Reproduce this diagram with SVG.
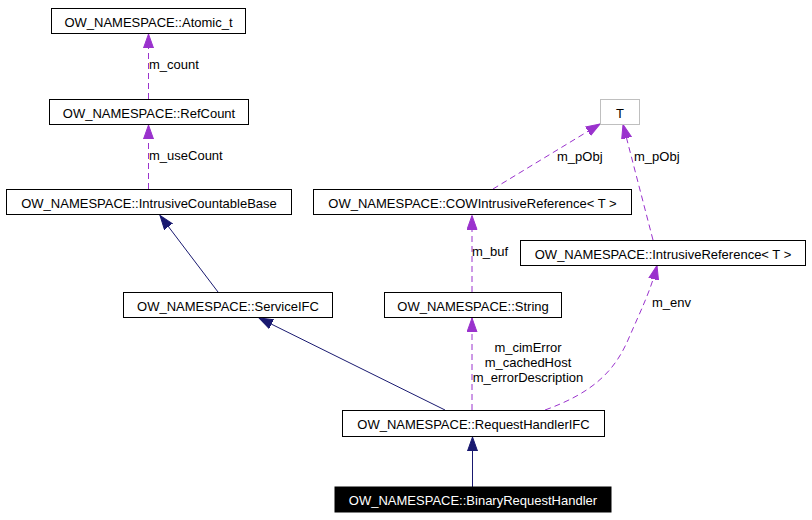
<svg xmlns="http://www.w3.org/2000/svg" width="812" height="520" viewBox="0 0 812 520">
<defs>
<style>
.n rect{fill:#fff;stroke:#000;stroke-width:1}
.n text{font-family:"Liberation Sans",Arial,sans-serif;font-size:13px;text-anchor:middle;fill:#000}
.lbl{font-family:"Liberation Sans",Arial,sans-serif;font-size:13px;fill:#000}
.inh{fill:none;stroke:#191970;stroke-width:1}
.use{fill:none;stroke:#9a32cd;stroke-width:1;stroke-dasharray:6,4}
</style>
<marker id="ah" markerUnits="userSpaceOnUse" markerWidth="15" markerHeight="11" refX="14" refY="5" orient="auto" viewBox="0 0 15 10">
<path d="M0,0 L14,5 L0,10 z" fill="#191970" stroke="#191970"/>
</marker>
<marker id="ap" markerUnits="userSpaceOnUse" markerWidth="15" markerHeight="11" refX="14" refY="5" orient="auto" viewBox="0 0 15 10">
<path d="M0,0 L14,5 L0,10 z" fill="#9a32cd" stroke="#9a32cd"/>
</marker>
</defs>
<rect width="812" height="520" fill="#fff"/>
<g id="edges">
<path class="use" d="M148.5,99 L148.5,34" marker-end="url(#ap)"/>
<path class="use" d="M148.5,189 L148.5,125" marker-end="url(#ap)"/>
<path class="inh" d="M218,292 L160,215.5" marker-end="url(#ah)"/>
<path class="inh" d="M445,410 L259,318" marker-end="url(#ah)"/>
<path class="inh" d="M472.5,487 L472.5,437" marker-end="url(#ah)"/>
<path class="use" d="M493,189 L600,124" marker-end="url(#ap)"/>
<path class="use" d="M653,240 L623,124.5" marker-end="url(#ap)"/>
<path class="use" d="M472,292 L472,215.5" marker-end="url(#ap)"/>
<path class="use" d="M472,410 L472,318" marker-end="url(#ap)"/>
<path class="use" d="M545,410 C592,393 614,372 628,340 C641,310 651,290 657,265.5" marker-end="url(#ap)"/>
<text class="lbl" x="149" y="69">m_count</text>
<text class="lbl" x="149" y="160">m_useCount</text>
<text class="lbl" x="557" y="161">m_pObj</text>
<text class="lbl" x="634" y="161">m_pObj</text>
<text class="lbl" x="472" y="256">m_buf</text>
<text class="lbl" x="528" y="351.5" text-anchor="middle">m_cimError</text>
<text class="lbl" x="528" y="366.5" text-anchor="middle">m_cachedHost</text>
<text class="lbl" x="528" y="381.5" text-anchor="middle">m_errorDescription</text>
<text class="lbl" x="652" y="307">m_env</text>
</g>
<g id="atomic" class="n"><rect x="51.5" y="8.5" width="194" height="25"/><text x="148.5" y="26.5">OW_NAMESPACE::Atomic_t</text></g>
<g id="refcount" class="n"><rect x="49.5" y="99.5" width="199" height="25"/><text x="149" y="117.5">OW_NAMESPACE::RefCount</text></g>
<g id="intrusivecountablebase" class="n"><rect x="6.5" y="189.5" width="285" height="25"/><text x="149" y="207.5">OW_NAMESPACE::IntrusiveCountableBase</text></g>
<g id="t" class="n"><rect x="600.5" y="99.5" width="39" height="25" style="stroke:#bfbfbf"/><text x="620" y="117.5">T</text></g>
<g id="cowintrusivereference" class="n"><rect x="313.5" y="189.5" width="318" height="25"/><text x="472.5" y="207.5">OW_NAMESPACE::COWIntrusiveReference&lt; T &gt;</text></g>
<g id="intrusivereference" class="n"><rect x="520.5" y="240.5" width="285" height="25"/><text x="663" y="258.5">OW_NAMESPACE::IntrusiveReference&lt; T &gt;</text></g>
<g id="serviceifc" class="n"><rect x="123.5" y="292.5" width="209" height="25"/><text x="228" y="310.5">OW_NAMESPACE::ServiceIFC</text></g>
<g id="string" class="n"><rect x="384.5" y="292.5" width="177" height="25"/><text x="473" y="310.5">OW_NAMESPACE::String</text></g>
<g id="requesthandlerifc" class="n"><rect x="342.5" y="410.5" width="262" height="26"/><text x="473.5" y="429">OW_NAMESPACE::RequestHandlerIFC</text></g>
<g id="binaryrequesthandler" class="n"><rect x="335" y="487" width="276" height="25" style="fill:#000;stroke:#000"/><text x="473" y="505" style="fill:#fff">OW_NAMESPACE::BinaryRequestHandler</text></g>
</svg>
